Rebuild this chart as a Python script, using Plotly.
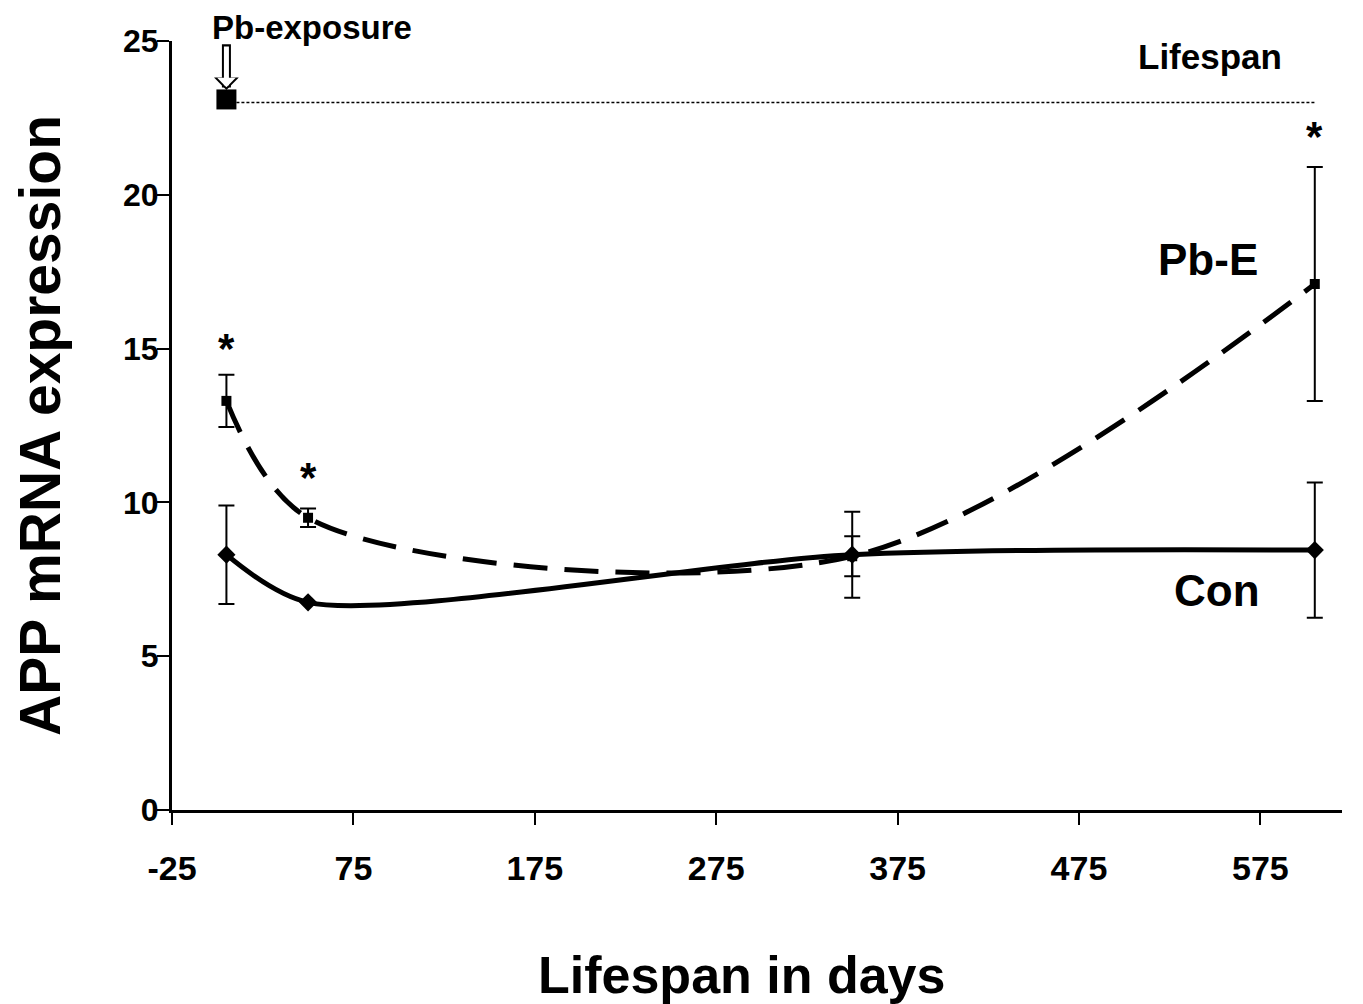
import plotly.graph_objects as go

# ---- data ----
days = [5, 50, 350, 605]
con_vals = [8.3, 6.75, 8.3, 8.45]
con_err = [1.6, 0.0, 1.4, 2.2]
pbe_vals = [13.3, 9.5, 8.25, 17.1]
pbe_err = [0.85, 0.3, 0.65, 3.8]
lifespan_x = [5, 605]
lifespan_y = [23.0, 23.0]
exposure_x = [5]
exposure_y = [23.1]
sig_x = [5, 50, 605]
sig_y = [15.0, 10.8, 21.9]
x_ticks = [-25, 75, 175, 275, 375, 475, 575]
y_ticks = [0, 5, 10, 15, 20, 25]

BOLD = "Liberation Sans"
NARROW = "Liberation Sans Narrow, Arial Narrow, Liberation Sans"

fig = go.Figure()

# lifespan dotted line
fig.add_trace(go.Scatter(x=lifespan_x, y=lifespan_y, mode="lines",
                         line=dict(color="black", width=1.5, dash="3px,2px"),
                         showlegend=False, hoverinfo="skip"))
fig.add_trace(go.Scatter(x=exposure_x, y=exposure_y, mode="markers",
                         marker=dict(symbol="square", size=20, color="black"),
                         showlegend=False, hoverinfo="skip"))

# Pb-E
fig.add_trace(go.Scatter(x=days, y=pbe_vals, mode="lines+markers", name="Pb-E",
                         line=dict(color="black", width=5, dash="34px,17px", shape="spline", smoothing=0.9),
                         marker=dict(symbol="square", size=10, color="black"),
                         error_y=dict(type="data", array=pbe_err, color="black", thickness=2, width=8),
                         showlegend=False))
# Con
fig.add_trace(go.Scatter(x=days, y=con_vals, mode="lines+markers", name="Con",
                         line=dict(color="black", width=5, shape="spline", smoothing=0.8),
                         marker=dict(symbol="diamond", size=14, color="black"),
                         error_y=dict(type="data", array=con_err, color="black", thickness=2, width=8),
                         showlegend=False))

# significance stars
for sx, sy in zip(sig_x, sig_y):
    fig.add_annotation(x=sx, y=sy, text="<b>*</b>", showarrow=False, xref="x", yref="y",
                       font=dict(family=BOLD, size=42, color="black"), yanchor="middle")

fig.add_annotation(x=52, y=1.018, xref="x", yref="paper", text="<b>Pb-exposure</b>", showarrow=False,
                   font=dict(family=BOLD, size=33, color="black"), yanchor="middle")
# hollow exposure arrow: black arrow with a thinner white arrow inside
fig.add_annotation(x=exposure_x[0], y=23.41, ax=exposure_x[0], ay=24.94, axref="x", ayref="y",
                   text="", showarrow=True, arrowhead=1, arrowsize=0.46, arrowwidth=9,
                   arrowcolor="black")
fig.add_annotation(x=exposure_x[0], y=23.50, ax=exposure_x[0], ay=24.87, axref="x", ayref="y",
                   text="", showarrow=True, arrowhead=1, arrowsize=0.62, arrowwidth=5,
                   arrowcolor="white")
fig.add_annotation(x=547, y=24.5, text="<b>Lifespan</b>", showarrow=False,
                   font=dict(family=BOLD, size=35, color="black"), yanchor="middle")
fig.add_annotation(x=546, y=17.9, text="<b>Pb-E</b>", showarrow=False,
                   font=dict(family=BOLD, size=44, color="black"), yanchor="middle")
fig.add_annotation(x=551, y=7.15, text="<b>Con</b>", showarrow=False,
                   font=dict(family=BOLD, size=44, color="black"), yanchor="middle")
fig.add_annotation(x=0.487, y=-0.2146, xref="paper", yref="paper", text="<b>Lifespan in days</b>",
                   showarrow=False, font=dict(family=BOLD, size=52, color="black"), yanchor="middle")

fig.update_layout(
    width=1355, height=996,
    paper_bgcolor="white", plot_bgcolor="white",
    margin=dict(l=164, r=21, t=33, b=194),
    xaxis=dict(range=[-25, 620], tickvals=x_ticks, ticktext=[str(v) for v in x_ticks],
               showgrid=False, zeroline=False, showline=True, linecolor="black", linewidth=3,
               ticks="outside", ticklen=12, tickwidth=2, tickcolor="black",
               tickfont=dict(family=NARROW, size=34, color="black", weight="bold"),
               ticklabelstandoff=14),
    yaxis=dict(range=[0, 25], tickvals=y_ticks, ticktext=[str(v) for v in y_ticks],
               showgrid=False, zeroline=False, showline=True, linecolor="black", linewidth=3,
               ticks="outside", ticklen=12, tickwidth=2, tickcolor="black",
               tickfont=dict(family=NARROW, size=32, color="black", weight="bold"),
               ticklabelstandoff=-8,
               title=dict(text="<b>APP mRNA expression</b>", font=dict(family=BOLD, size=57, color="black"),
                          standoff=58)),
)

fig.write_html("out.html")
